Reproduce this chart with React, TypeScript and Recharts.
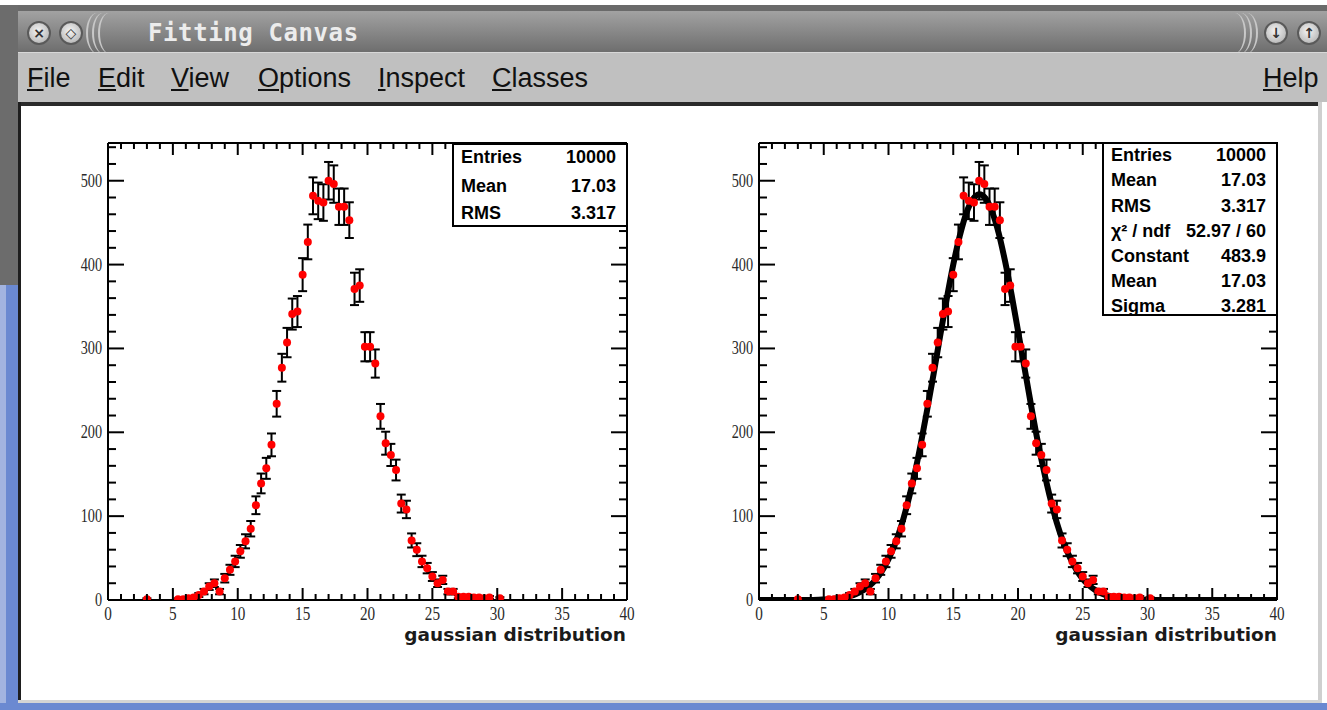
import React from 'react';
import { ComposedChart, Scatter, Line, XAxis, YAxis, ErrorBar } from 'recharts';

// ---- histogram data (bin width 0.4, only non-empty bins) ----
const binCenters = [3.0, 5.4, 5.8, 6.2, 6.6, 7.0, 7.4, 7.8, 8.2, 8.6, 9.0, 9.4, 9.8, 10.2, 10.6, 11.0, 11.4, 11.8, 12.2, 12.6, 13.0, 13.4, 13.8, 14.2, 14.6, 15.0, 15.4, 15.8, 16.2, 16.6, 17.0, 17.4, 17.8, 18.2, 18.6, 19.0, 19.4, 19.8, 20.2, 20.6, 21.0, 21.4, 21.8, 22.2, 22.6, 23.0, 23.4, 23.8, 24.2, 24.6, 25.0, 25.4, 25.8, 26.2, 26.6, 27.0, 27.4, 27.8, 28.2, 28.6, 29.0, 29.4, 30.2];
const counts = [1, 1, 1, 2, 3, 6, 10, 16, 20, 10, 26, 36, 46, 58, 70, 85, 113, 139, 157, 185, 234, 277, 307, 341, 344, 388, 427, 482, 476, 474, 500, 496, 469, 469, 453, 371, 375, 302, 302, 282, 219, 187, 173, 155, 115, 108, 71, 60, 46, 38, 28, 20, 24, 10, 10, 4, 4, 4, 3, 3, 2, 3, 2];
const errors = [1, 1, 1, 1.4, 1.7, 2.4, 3.2, 4, 4.5, 3.2, 5.1, 6, 6.8, 7.6, 8.4, 9.2, 10.6, 11.8, 12.5, 13.6, 15.3, 16.6, 17.5, 18.5, 18.5, 19.7, 20.7, 22, 21.8, 21.8, 22.4, 22.3, 21.7, 21.7, 21.3, 19.3, 19.4, 17.4, 17.4, 16.8, 14.8, 13.7, 13.2, 12.4, 10.7, 10.4, 8.4, 7.7, 6.8, 6.2, 5.3, 4.5, 4.9, 3.2, 3.2, 2, 2, 2, 1.7, 1.7, 1.4, 1.7, 1.4];

// ---- fitted gaussian curve ----
const fitX = [0, 2, 4, 5, 6, 6.5, 7, 7.5, 8, 8.5, 9, 9.5, 10, 10.5, 11, 11.5, 12, 12.5, 13, 13.5, 14, 14.5, 15, 15.5, 16, 16.5, 17, 17.5, 18, 18.5, 19, 19.5, 20, 20.5, 21, 21.5, 22, 22.5, 23, 23.5, 24, 24.5, 25, 25.5, 26, 26.5, 27, 27.5, 28, 29, 30, 32, 36, 40];
const fitY = [0, 0, 0, 0.6, 1.7, 2.8, 4.5, 7.1, 11, 16.5, 24, 34.7, 48.7, 66.8, 89, 117, 149, 186.6, 228, 271, 316, 359.5, 400, 434, 461, 477.6, 483.9, 479, 463, 438, 404, 364.5, 321, 277, 233, 191, 154, 120.6, 92, 69, 51, 36.2, 25, 17.3, 11.5, 7.5, 4.8, 3, 1.8, 0.7, 0.2, 0, 0, 0];

const xTicks = [0, 1, 2, 3, 4, 5, 6, 7, 8, 9, 10, 11, 12, 13, 14, 15, 16, 17, 18, 19, 20, 21, 22, 23, 24, 25, 26, 27, 28, 29, 30, 31, 32, 33, 34, 35, 36, 37, 38, 39, 40];
const yTicks = [0, 20, 40, 60, 80, 100, 120, 140, 160, 180, 200, 220, 240, 260, 280, 300, 320, 340, 360, 380, 400, 420, 440, 460, 480, 500, 520, 540];

const menuItems = ['File', 'Edit', 'View', 'Options', 'Inspect', 'Classes'];
const menuX = [27, 98, 171, 258, 378, 492];
const xTitle = 'gaussian distribution';
const leftStatLabels = ['Entries', 'Mean', 'RMS'];
const leftStatValues = ['10000', '17.03', '3.317'];
const rightStatLabels = ['Entries', 'Mean', 'RMS', 'χ² / ndf', 'Constant', 'Mean', 'Sigma'];
const rightStatValues = ['10000', '17.03', '3.317', '52.97 / 60', '483.9', '17.03', '3.281'];

const points = binCenters.map((x, i) => ({ x, y: counts[i], err: errors[i] }));
const fitData = fitX.map((x, i) => ({ x, y: fitY[i] }));

const labelFont = 'Liberation Serif, serif';

const BottomTick = (p: any) => {
  const v = p.payload.value;
  const major = v % 5 === 0;
  return (
    <g>
      <line x1={p.x} x2={p.x} y1={p.y} y2={p.y - (major ? 12 : 6)} stroke="#000" strokeWidth={2} />
      {major && (
        <text transform={`translate(${p.x},${p.y + 20}) scale(0.8,1)`} textAnchor="middle" fontFamily={labelFont} fontSize={19} fill="#2a2a2a">{v}</text>
      )}
    </g>
  );
};
const TopTick = (p: any) => {
  const v = p.payload.value;
  const major = v % 5 === 0;
  return <line x1={p.x} x2={p.x} y1={p.y} y2={p.y + (major ? 12 : 6)} stroke="#000" strokeWidth={2} />;
};
const LeftTick = (p: any) => {
  const v = p.payload.value;
  const major = v % 100 === 0;
  return (
    <g>
      <line x1={p.x} x2={p.x + (major ? 16 : 8)} y1={p.y} y2={p.y} stroke="#000" strokeWidth={2} />
      {major && (
        <text transform={`translate(${p.x - 6},${p.y + 6}) scale(0.75,1)`} textAnchor="end" fontFamily={labelFont} fontSize={19} fill="#2a2a2a">{v}</text>
      )}
    </g>
  );
};
const RightTick = (p: any) => {
  const v = p.payload.value;
  const major = v % 100 === 0;
  return <line x1={p.x} x2={p.x - (major ? 16 : 8)} y1={p.y} y2={p.y} stroke="#000" strokeWidth={2} />;
};

const RedDot = (p: any) => <circle cx={p.cx} cy={p.cy} r={4} fill="#ff0000" />;

const axisLine = { stroke: '#000', strokeWidth: 2 };

function Pad({ left, width, fit }: { left: number; width: number; fit: boolean }) {
  return (
    <div style={{ position: 'absolute', left, top: 106 }}>
      <ComposedChart width={width} height={594} margin={{ top: 27, right: 23, bottom: 70, left: 28 }}>
        <XAxis xAxisId="b" dataKey="x" type="number" domain={[0, 40]} allowDataOverflow ticks={xTicks} interval={0}
          tickSize={0} tickMargin={0} tickLine={false} axisLine={axisLine} tick={<BottomTick />} height={30} />
        <XAxis xAxisId="t" orientation="top" dataKey="x" type="number" domain={[0, 40]} allowDataOverflow ticks={xTicks} interval={0}
          tickSize={0} tickMargin={0} tickLine={false} axisLine={axisLine} tick={<TopTick />} height={10} />
        <YAxis yAxisId="l" dataKey="y" type="number" domain={[0, 545]} allowDataOverflow ticks={yTicks} interval={0}
          tickSize={0} tickMargin={0} tickLine={false} axisLine={axisLine} tick={<LeftTick />} width={60} />
        <YAxis yAxisId="r" orientation="right" dataKey="y" type="number" domain={[0, 545]} allowDataOverflow ticks={yTicks} interval={0}
          tickSize={0} tickMargin={0} tickLine={false} axisLine={axisLine} tick={<RightTick />} width={10} />
        <Scatter xAxisId="b" yAxisId="l" data={points} shape={RedDot} isAnimationActive={false}>
          <ErrorBar dataKey="err" direction="y" width={4.5} stroke="#000" strokeWidth={2} isAnimationActive={false} />
        </Scatter>
        {fit && (
          <Line xAxisId="b" yAxisId="l" data={fitData} dataKey="y" type="monotone" stroke="#000" strokeWidth={6}
            dot={false} activeDot={false} isAnimationActive={false} />
        )}
      </ComposedChart>
    </div>
  );
}

function StatBox({ left, top, width, height, labels, values, rows }: any) {
  return (
    <div style={{ position: 'absolute', left, top, width, height, border: '2px solid #000', boxSizing: 'border-box', background: '#fff' }}>
      {labels.map((l: string, i: number) => (
        <div key={i} style={{ position: 'absolute', left: 7, right: 10, top: rows[i] - top - 11, height: 22, lineHeight: '22px',
          fontFamily: 'Liberation Sans, Arial, sans-serif', fontWeight: 'bold', fontSize: 18, color: '#000' }}>
          <span style={{ position: 'absolute', left: 0 }}>{l}</span>
          <span style={{ position: 'absolute', right: 0 }}>{values[i]}</span>
        </div>
      ))}
    </div>
  );
}

const Btn = ({ x, sym }: { x: number; sym: string }) => (
  <div style={{ position: 'absolute', left: x - 12, top: 21, width: 24, height: 24, borderRadius: '50%', boxSizing: 'border-box',
    border: '2px solid #5a5a5a', background: 'radial-gradient(circle at 45% 40%, #f4f4f4, #a8a8a8)', textAlign: 'center',
    lineHeight: '20px', fontSize: 14, color: '#333', fontFamily: 'DejaVu Sans', fontWeight: 'bold' }}>{sym}</div>
);
const Arc = ({ x, right }: { x: number; right?: boolean }) => (
  <div style={{ position: 'absolute', left: x, top: 13, width: 22, height: 40, borderRadius: '50%', boxSizing: 'border-box',
    borderLeft: right ? 'none' : '2px solid #c8c8c8', borderRight: right ? '2px solid #c8c8c8' : 'none' }} />
);

export default function App() {
  return (
    <div style={{ position: 'absolute', left: 0, top: 0, width: 1327, height: 710, background: '#fff', overflow: 'hidden' }}>
      {/* outer window frame */}
      <div style={{ position: 'absolute', left: 0, top: 5, width: 1327, height: 6, background: '#6a6a6a' }} />
      <div style={{ position: 'absolute', left: 0, top: 5, width: 18, height: 280, background: '#6c6c6c' }} />
      <div style={{ position: 'absolute', left: 0, top: 285, width: 18, height: 425, background: '#6b89d1' }} />
      <div style={{ position: 'absolute', left: 0, top: 285, width: 6, height: 425, background: '#a3b4e0' }} />
      {/* title bar */}
      <div style={{ position: 'absolute', left: 18, top: 11, width: 1309, height: 41, background: 'linear-gradient(#a2a2a2, #6e6e6e)' }} />
      <Btn x={39} sym="×" />
      <Btn x={71} sym="◇" />
      <Arc x={86} /><Arc x={92} /><Arc x={98} />
      <div style={{ position: 'absolute', left: 148, top: 19, fontFamily: 'DejaVu Sans Mono, monospace', fontWeight: 'bold', fontSize: 24,
        lineHeight: '28px', color: '#ececec', letterSpacing: 0.6 }}>Fitting Canvas</div>
      <Arc x={1224} right /><Arc x={1230} right /><Arc x={1236} right />
      <Btn x={1276} sym="↓" />
      <Btn x={1309} sym="↑" />
      {/* menu bar */}
      <div style={{ position: 'absolute', left: 18, top: 52, width: 1309, height: 50, background: '#c0c0c0', borderTop: '1px solid #d8d8d8', boxSizing: 'border-box' }} />
      {menuItems.map((m, i) => (
        <div key={m} style={{ position: 'absolute', left: menuX[i], top: 65, fontFamily: 'Liberation Sans, Arial, sans-serif', fontSize: 27,
          lineHeight: '27px', color: '#111' }}>
          <span style={{ textDecoration: 'underline' }}>{m[0]}</span>{m.slice(1)}
        </div>
      ))}
      <div style={{ position: 'absolute', left: 1263, top: 65, fontFamily: 'Liberation Sans, Arial, sans-serif', fontSize: 27, lineHeight: '27px', color: '#111' }}>
        <span style={{ textDecoration: 'underline' }}>H</span>elp
      </div>
      {/* canvas border */}
      <div style={{ position: 'absolute', left: 18, top: 102, width: 1304, height: 4, background: '#2a2a2a' }} />
      <div style={{ position: 'absolute', left: 18, top: 102, width: 3, height: 600, background: '#1e1e1e' }} />
      <div style={{ position: 'absolute', left: 1318, top: 102, width: 4, height: 600, background: '#cfcfcf' }} />
      <div style={{ position: 'absolute', left: 18, top: 700, width: 1304, height: 3, background: '#d4d4d4' }} />
      <div style={{ position: 'absolute', left: 0, top: 703, width: 1327, height: 7, background: '#6b89d1' }} />

      <Pad left={20} width={640} fit={false} />
      <Pad left={671} width={639} fit={true} />

      <StatBox left={452} top={143} width={176} height={84} labels={leftStatLabels} values={leftStatValues} rows={[155, 184, 211]} />
      <StatBox left={1102} top={142} width={176} height={174} labels={rightStatLabels} values={rightStatValues}
        rows={[153, 178, 204, 229, 254, 279, 304]} />

      <div style={{ position: 'absolute', right: 1327 - 626, top: 624, fontFamily: 'DejaVu Sans, sans-serif', fontWeight: 'bold', fontSize: 18.5, color: '#1a1a1a', whiteSpace: 'nowrap' }}>{xTitle}</div>
      <div style={{ position: 'absolute', right: 1327 - 1277, top: 624, fontFamily: 'DejaVu Sans, sans-serif', fontWeight: 'bold', fontSize: 18.5, color: '#1a1a1a', whiteSpace: 'nowrap' }}>{xTitle}</div>
    </div>
  );
}
